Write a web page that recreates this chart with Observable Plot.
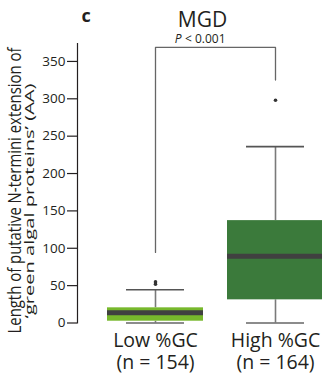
<!DOCTYPE html>
<html>
<head>
<meta charset="utf-8">
<script src="https://cdn.jsdelivr.net/npm/d3@7"></script>
<script src="https://cdn.jsdelivr.net/npm/@observablehq/plot@0.6"></script>
<style>
  html, body { margin: 0; padding: 0; background: #fff; }
  #chart svg { display: block; overflow: visible; }
</style>
</head>
<body>
<div id="chart"></div>
<script>
// ---- data ----
const categories = ["Low %GC", "High %GC"];
const nLabels = ["(n = 154)", "(n = 164)"];
const whiskerLow = [0, 0];
const q1 = [2.4, 31];
const medians = [13.6, 89.3];
const q3 = [20.3, 137];
const whiskerHigh = [44.4, 236];
const outlierGroups = ["Low %GC", "Low %GC", "High %GC"];
const outlierValues = [52, 55, 298];
const boxColors = ["#77b82c", "#3b7a3b"];
const yTicks = [0, 50, 100, 150, 200, 250, 300, 350];
const bracketValues = { left: 94.5, top: 368.7, right: 325 };
const titleText = "MGD";
const pText = "< 0.001";
const panelLabel = "c";
const yLabel1 = "Length of putative N-termini extension of";
const yLabel2 = "\u2018green algal proteins\u2019 (AA)";

const boxes = categories.map((c, i) => ({
  cat: c, lo: whiskerLow[i], q1: q1[i], med: medians[i], q3: q3[i], hi: whiskerHigh[i], color: boxColors[i]
}));
const outliers = outlierValues.map((v, i) => ({cat: outlierGroups[i], v}));
const bracket = [
  {x: categories[0], y: bracketValues.left},
  {x: categories[0], y: bracketValues.top},
  {x: categories[1], y: bracketValues.top},
  {x: categories[1], y: bracketValues.right}
];

const ink = "#231f20";
const whiskerColor = "#7a7a7a";

const chart = Plot.plot({
  width: 322,
  height: 374,
  marginLeft: 77,
  marginRight: 0,
  marginTop: 43,
  marginBottom: 51.5,
  style: {fontFamily: "'Open Sans', sans-serif", color: ink, background: "#fff"},
  x: {type: "band", domain: categories, range: [95, 335], paddingInner: 0.2, paddingOuter: 0.1},
  y: {domain: [0, 374]},
  marks: [
    Plot.frame({anchor: "left", stroke: ink, strokeWidth: 1.2}),
    Plot.axisY({ticks: yTicks, tickSize: 10, tickPadding: 2, fontSize: 13.5, label: null, stroke: ink, strokeWidth: 1.2}),
    Plot.axisX({
      tickSize: 0, tickPadding: 9, fontSize: 19.5, lineHeight: 1.1, label: null,
      tickFormat: (d) => d + "\n" + nLabels[categories.indexOf(d)]
    }),
    // bracket
    Plot.line(bracket, {x: "x", y: "y", stroke: "#666", strokeWidth: 1.3}),
    // whiskers
    Plot.ruleX(boxes, {x: "cat", y1: "q3", y2: "hi", stroke: whiskerColor, strokeWidth: 1.6}),
    Plot.ruleX(boxes, {x: "cat", y1: "lo", y2: "q1", stroke: whiskerColor, strokeWidth: 1.6}),
    Plot.tickY(boxes, {x: "cat", y: "hi", insetLeft: 19, insetRight: 19, stroke: "#555", strokeWidth: 1.6}),
    Plot.tickY(boxes, {x: "cat", y: "lo", insetLeft: 19, insetRight: 19, stroke: "#666", strokeWidth: 1.6}),
    // boxes
    Plot.barY(boxes, {x: "cat", y1: "q1", y2: "q3", fill: "color"}),
    Plot.tickY(boxes, {x: "cat", y: "med", stroke: "#404040", strokeWidth: 5}),
    // outliers
    Plot.dot(outliers, {x: "cat", y: "v", r: 1.8, fill: "#333", stroke: null}),
    // titles
    Plot.text([panelLabel], {frameAnchor: "top-left", dx: 4, dy: -22, lineAnchor: "bottom", textAnchor: "start", fontSize: 18, fontWeight: "bold", fill: ink}),
    Plot.text([titleText], {frameAnchor: "top", dx: 2.5, dy: -17, lineAnchor: "bottom", textAnchor: "middle", fontSize: 21, fill: ink}),
    Plot.text(["P"], {frameAnchor: "top-left", dx: 104, dy: -1, lineAnchor: "bottom", textAnchor: "end", fontSize: 12, fontStyle: "italic", fill: ink}),
    Plot.text([pText], {frameAnchor: "top-left", dx: 107.5, dy: -1, lineAnchor: "bottom", textAnchor: "start", fontSize: 12, fill: ink}),
    // y label
    Plot.text([yLabel1], {frameAnchor: "left", dx: -56.5, dy: 7.25, rotate: -90, lineAnchor: "bottom", textAnchor: "middle", fontSize: 17.5, fill: ink}),
    Plot.text([yLabel2], {frameAnchor: "left", dx: -43.5, dy: 17.75, rotate: -90, lineAnchor: "bottom", textAnchor: "middle", fontSize: 12, fill: ink})
  ]
});
// the reference's y-label lines are typeset to fixed lengths (condensed / expanded)
for (const t of chart.querySelectorAll("text")) {
  if (t.textContent === yLabel1) { t.setAttribute("textLength", 286); t.setAttribute("lengthAdjust", "spacingAndGlyphs"); }
  if (t.textContent === yLabel2) { t.setAttribute("textLength", 235); t.setAttribute("lengthAdjust", "spacingAndGlyphs"); }
}
document.getElementById("chart").appendChild(chart);
</script>
</body>
</html>
